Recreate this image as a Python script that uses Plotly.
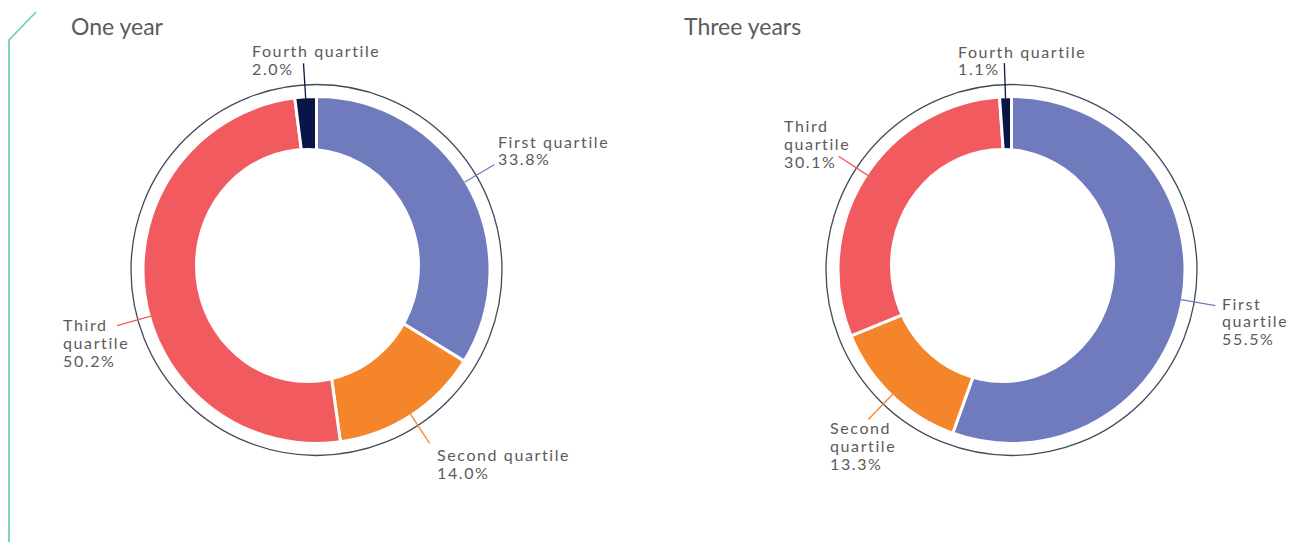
import math
import plotly.graph_objects as go

# ---- data ----
categories = ["First quartile", "Second quartile", "Third quartile", "Fourth quartile"]
one_year = [33.8, 14.0, 50.2, 2.0]
three_years = [55.5, 13.3, 30.1, 1.1]
titles = ["One year", "Three years"]
label_lines_one = [["First quartile", "33.8%"], ["Second quartile", "14.0%"],
                   ["Third", "quartile", "50.2%"], ["Fourth quartile", "2.0%"]]
label_lines_three = [["First", "quartile", "55.5%"], ["Second", "quartile", "13.3%"],
                     ["Third", "quartile", "30.1%"], ["Fourth quartile", "1.1%"]]

# ---- style ----
W, H = 1294, 542
OFF = 8  # page body margin
colors = ["#6f7bbd", "#f5852a", "#f15b60", "#0b1446"]
FONT = "Lato"
TEXT_COL = "#5b5b5b"
PITCH = 17.8


def px(x):
    return (x - OFF) / W


def py(y):
    return 1 - (y - OFF) / H


charts = [
    dict(values=one_year, labels=label_lines_one, cx=316.5, cy=270, title=titles[0], tx=70,
         lab_pos=[(497, 141), (436, 454.5), (61.5, 324.5), (250.5, 50.5)],
         nudge=[-1.5, 0, -8, 0]),
    dict(values=three_years, labels=label_lines_three, cx=1011.5, cy=270, title=titles[1], tx=683,
         lab_pos=[(1221, 303), (829, 427.5), (782.5, 125.5), (957.5, 51)],
         nudge=[0, 0, 1.5, 0]),
]
R = 173.5
RING = 185.5
# hole box relative to donut centre (left, right, top, bottom offsets in px)
HOLE_L, HOLE_R_, HOLE_T, HOLE_B = -121.5, 103.5, -122, 113

fig = go.Figure()
shapes = []
annotations = []

for ch in charts:
    cx, cy = ch["cx"], ch["cy"]
    fig.add_trace(go.Pie(
        labels=categories, values=ch["values"], sort=False, direction="clockwise", rotation=0,
        hole=0.4, textinfo="none", hoverinfo="label+percent",
        marker=dict(colors=colors, line=dict(color="white", width=3)),
        domain=dict(x=[px(cx - R), px(cx + R)], y=[py(cy + R), py(cy - R)]),
        showlegend=False,
    ))
    # hole
    shapes.append(dict(type="circle", xref="paper", yref="paper",
                       x0=px(cx + HOLE_L), x1=px(cx + HOLE_R_),
                       y0=py(cy + HOLE_B), y1=py(cy + HOLE_T),
                       fillcolor="white", line=dict(width=0), layer="above"))
    # outer thin ring
    shapes.append(dict(type="circle", xref="paper", yref="paper",
                       x0=px(cx - RING), x1=px(cx + RING), y0=py(cy + RING), y1=py(cy - RING),
                       line=dict(color="#3e4c5c", width=1.3), layer="above"))
    # leader lines from slice mid-angles
    total = sum(ch["values"])
    cum = 0
    for i, v in enumerate(ch["values"]):
        mid = (cum + v / 2) / total * 2 * math.pi + math.radians(ch["nudge"][i])
        cum += v
        r1, r2 = 172, 207
        x1, y1 = cx + r1 * math.sin(mid), cy - r1 * math.cos(mid)
        x2, y2 = cx + r2 * math.sin(mid), cy - r2 * math.cos(mid)
        shapes.append(dict(type="line", xref="paper", yref="paper",
                           x0=px(x1), y0=py(y1), x1=px(x2), y1=py(y2),
                           line=dict(color=colors[i], width=1.3), layer="above"))
        lx, ly = ch["lab_pos"][i]
        for k, line in enumerate(ch["labels"][i]):
            annotations.append(dict(
                text='<span style="letter-spacing:1.6px">' + line + '</span>',
                xref="paper", yref="paper", x=px(lx), y=py(ly + k * PITCH),
                xanchor="left", yanchor="middle", align="left", showarrow=False,
                borderpad=0, font=dict(family=FONT, size=16, color=TEXT_COL)))
    annotations.append(dict(text=ch["title"], xref="paper", yref="paper",
                            x=px(ch["tx"]), y=py(26), xanchor="left", yanchor="middle",
                            showarrow=False, borderpad=0,
                            font=dict(family=FONT, size=23, color=TEXT_COL)))

# decorative corner line
path = "M {} {} L {} {} L {} {}".format(px(36), py(12), px(9), py(40), px(9), py(560))
shapes.append(dict(type="path", xref="paper", yref="paper", path=path,
                   line=dict(color="#72d0ae", width=1.8)))

fig.update_layout(width=W, height=H, margin=dict(l=0, r=0, t=0, b=0),
                  paper_bgcolor="white", plot_bgcolor="white",
                  shapes=shapes, annotations=annotations)

fig.write_html("out.html")
